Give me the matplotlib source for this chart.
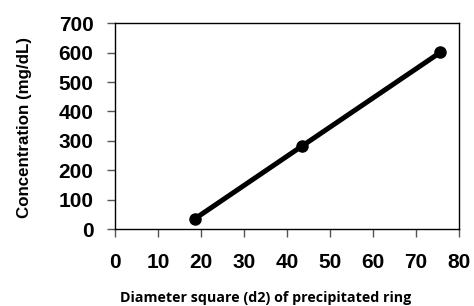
import matplotlib
matplotlib.use("Agg")
import matplotlib.pyplot as plt

# valeurs
d2 = [18.5, 43.6, 75.7]
concentration = [34, 283, 601]
x_ticks = [0, 10, 20, 30, 40, 50, 60, 70, 80]
y_ticks = [0, 100, 200, 300, 400, 500, 600, 700]

fig = plt.figure(figsize=(4.74, 3.06), dpi=100)
ax = fig.add_axes([0.2426, 0.2516, 0.968 - 0.2426, 0.924 - 0.2516])

ax.plot(d2, concentration, color="black", lw=3.6, marker="o", ms=8,
        solid_capstyle="butt")

ax.set_xlim(0, 80)
ax.set_ylim(0, 700)
ax.set_xticks(x_ticks)
ax.set_yticks(y_ticks)

for lab in ax.get_xticklabels() + ax.get_yticklabels():
    lab.set_fontfamily("Liberation Sans")
    lab.set_fontweight("bold")
    lab.set_fontsize(15)

ax.tick_params(axis="y", direction="out", length=6, width=1, pad=9.5, color="#555555")
ax.tick_params(axis="x", direction="out", length=6, width=1, pad=11, color="#555555")
for s in ax.spines.values():
    s.set_linewidth(1)

fig.text(0.051, 0.582, "Concentration (mg/dL)", fontfamily="Liberation Sans",
         fontweight="bold", fontsize=12.2, rotation=90, ha="center", va="center")
fig.text(0.561, 0.026, "Diameter square (d2) of precipitated ring",
         fontfamily="Open Sans", fontweight="bold", fontsize=10.3,
         ha="center", va="center")

fig.savefig("out.png", dpi=100)
